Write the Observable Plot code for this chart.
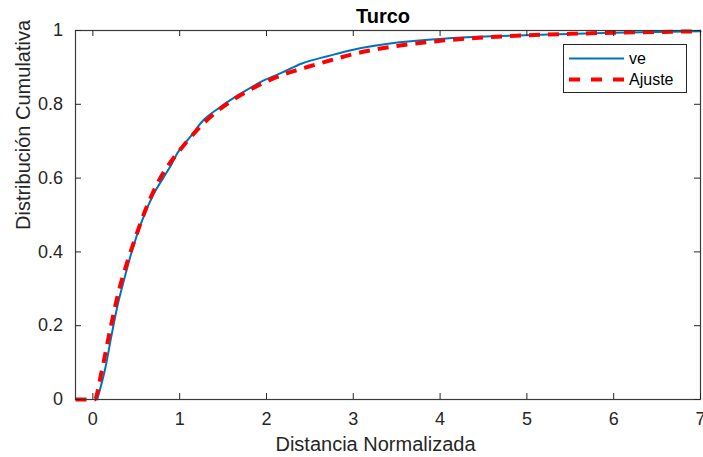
<!DOCTYPE html>
<html>
<head>
<meta charset="utf-8">
<script src="https://cdn.jsdelivr.net/npm/d3@7"></script>
<script src="https://cdn.jsdelivr.net/npm/@observablehq/plot@0.6"></script>
<style>
  body { margin: 0; background: #fff; }
  #wrap { position: relative; width: 703px; height: 457px; font-family: "Liberation Sans", Arial, sans-serif; }
  #legend { position: absolute; left: 563px; top: 44px; width: 122px; height: 47px; border: 1px solid #262626; background: #fff; }
</style>
</head>
<body>
<div id="wrap"></div>
<script>
// ---- data ----
const title = "Turco";
const xLabel = "Distancia Normalizada";
const yLabel = "Distribución Cumulativa";
const seriesNames = ["ve", "Ajuste"];

const xTicks = [0, 1, 2, 3, 4, 5, 6, 7];
const xTickLabels = ["0", "1", "2", "3", "4", "5", "6", "7"];
const yTicks = [0, 0.2, 0.4, 0.6, 0.8, 1];
const yTickLabels = ["0", "0.2", "0.4", "0.6", "0.8", "1"];

// empirical CDF "ve"
const veX = [0.05, 0.146, 0.211, 0.28, 0.367, 0.452, 0.567, 0.70, 0.815, 0.91, 0.969, 1.12, 1.27, 1.466, 1.696, 1.963, 2.19, 2.40, 2.73, 2.96, 3.53, 4.1, 4.68, 5.25, 6.0, 7.0];
const veY = [0, 0.088, 0.169, 0.25, 0.331, 0.404, 0.485, 0.557, 0.602, 0.639, 0.666, 0.711, 0.756, 0.792, 0.828, 0.864, 0.887, 0.910, 0.932, 0.946, 0.968, 0.979, 0.985, 0.989, 0.994, 0.998];

// fitted CDF "Ajuste"
const fitX = [-0.2, 0.02, 0.1, 0.2, 0.3, 0.4, 0.5, 0.6, 0.7, 0.8, 0.9, 1.0, 1.2, 1.4, 1.6, 1.8, 2.0, 2.25, 2.5, 2.75, 3.0, 3.5, 4.0, 4.5, 5.0, 5.5, 6.0, 6.5, 7.0];
const fitY = [0, 0, 0.075, 0.19, 0.295, 0.375, 0.445, 0.51, 0.565, 0.61, 0.645, 0.675, 0.73, 0.775, 0.81, 0.838, 0.862, 0.885, 0.903, 0.92, 0.936, 0.958, 0.972, 0.981, 0.987, 0.991, 0.994, 0.996, 0.998];

const veData = veX.map((x, i) => ({x, y: veY[i]}));
const fitData = fitX.map((x, i) => ({x, y: fitY[i]}));

const ink = "#262626";
const W = 703, H = 457, mL = 75, mR = 3, mT = 30, mB = 58;
const pw = W - mL - mR, ph = H - mT - mB;
const tl = 6;

const chart = Plot.plot({
  width: W, height: H,
  marginLeft: mL, marginRight: mR, marginTop: mT, marginBottom: mB,
  style: {fontFamily: "'Liberation Sans', Arial, sans-serif", color: ink, background: "#fff", overflow: "visible"},
  x: {domain: [-0.2, 7]},
  y: {domain: [0, 1]},
  marks: [
    Plot.line(veData, {x: "x", y: "y", stroke: "#0072BD", strokeWidth: 2, curve: "monotone-x"}),
    Plot.line(fitData, {x: "x", y: "y", stroke: "#FF0000", strokeWidth: 4, strokeDasharray: "11,8", strokeLinecap: "butt", curve: "monotone-x"}),
    Plot.frame({stroke: "#3a3a3a", strokeWidth: 1.2}),
    Plot.tickX(xTicks, {x: d => d, insetTop: ph - tl, stroke: ink}),
    Plot.tickX(xTicks, {x: d => d, insetBottom: ph - tl, stroke: ink}),
    Plot.tickY(yTicks, {y: d => d, insetRight: pw - tl, stroke: ink}),
    Plot.tickY(yTicks, {y: d => d, insetLeft: pw - tl, stroke: ink}),
    Plot.axisX(xTicks, {tickSize: 0, tickPadding: 13, fontSize: 18, label: null, tickFormat: (d, i) => xTickLabels[i], fill: ink}),
    Plot.axisY(yTicks, {tickSize: 0, tickPadding: 12.5, fontSize: 18, label: null, tickFormat: (d, i) => yTickLabels[i], fill: ink}),
    Plot.text([title], {frameAnchor: "top", lineAnchor: "middle", dy: -14.4, dx: -5, text: d => d, fontSize: 20, fontWeight: "bold", fill: "#000"}),
    Plot.text([xLabel], {frameAnchor: "bottom", lineAnchor: "middle", dy: 44.6, dx: -12.5, text: d => d, fontSize: 20, fill: ink}),
    Plot.text([yLabel], {frameAnchor: "left", lineAnchor: "middle", dx: -51.5, dy: 15, rotate: -90, text: d => d, fontSize: 20, fill: ink})
  ]
});

const wrap = document.getElementById("wrap");
wrap.appendChild(chart);

// legend
const legend = document.createElement("div");
legend.id = "legend";
const colors = ["#0072BD", "#FF0000"];
const widths = [2, 4];
const dashes = [null, "11,11"];
const ns = "http://www.w3.org/2000/svg";
const lsvg = document.createElementNS(ns, "svg");
lsvg.setAttribute("width", 122);
lsvg.setAttribute("height", 47);
seriesNames.forEach((name, i) => {
  const cy = 13.5 + i * 21;
  const ln = document.createElementNS(ns, "line");
  ln.setAttribute("x1", 5); ln.setAttribute("x2", 60);
  ln.setAttribute("y1", cy); ln.setAttribute("y2", cy);
  ln.setAttribute("stroke", colors[i]);
  ln.setAttribute("stroke-width", widths[i]);
  if (dashes[i]) ln.setAttribute("stroke-dasharray", dashes[i]);
  lsvg.appendChild(ln);
  const t = document.createElementNS(ns, "text");
  t.setAttribute("x", 65); t.setAttribute("y", cy + 5.5);
  t.setAttribute("font-size", 16);
  t.setAttribute("font-family", "'Liberation Sans', Arial, sans-serif");
  t.setAttribute("fill", "#000");
  t.textContent = name;
  lsvg.appendChild(t);
});
legend.appendChild(lsvg);
wrap.appendChild(legend);
</script>
</body>
</html>
